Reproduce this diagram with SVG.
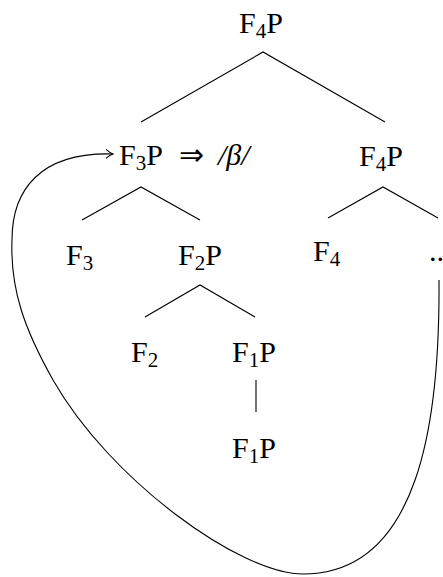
<svg xmlns="http://www.w3.org/2000/svg" width="443" height="577" viewBox="0 0 443 577">
<style>
text{font-family:"Liberation Serif","Times New Roman",serif;font-size:30px;fill:#000}
.c{text-anchor:middle}
.s{font-size:21px}
.e{stroke:#000;stroke-width:1.1;fill:none}
</style>
<defs>
<marker id="ah" markerWidth="12" markerHeight="12" refX="9" refY="6" orient="auto" markerUnits="userSpaceOnUse">
<path d="M2 1.5 Q6 5 9 6 Q6 7 2 10.5" fill="none" stroke="#000" stroke-width="1"/>
</marker>
</defs>
<g id="connectors">
<path class="e" d="M141 122 L263 52 L385 122"/>
<path class="e" d="M82 220 L141 187 L200 220"/>
<path class="e" d="M328 218 L383 187 L438 218"/>
<path class="e" d="M145 317 L200 285 L255 317"/>
<path class="e" d="M256 380 L256 412"/>
<path class="e" marker-end="url(#ah)" d="M439 280 C440 420 420 574 303 574 C240 574 110 480 53 380 C25 330 10 290 12 240 C12 190 40 152 113 154"/>
</g>
<g id="n_top"><text class="c" x="261" y="33">F<tspan class="s" dy="5">4</tspan><tspan dy="-5">P</tspan></text></g>
<g id="n_f3p"><text class="c" x="141" y="165">F<tspan class="s" dy="5">3</tspan><tspan dy="-5">P</tspan></text><text x="179" y="165">⇒</text><text x="218" y="165" font-style="italic">/β/</text></g>
<g id="n_f4p"><text class="c" x="381" y="166">F<tspan class="s" dy="5">4</tspan><tspan dy="-5">P</tspan></text></g>
<g id="n_f3"><text x="66" y="265">F<tspan class="s" dy="5">3</tspan></text></g>
<g id="n_f2p"><text class="c" x="200" y="265">F<tspan class="s" dy="5">2</tspan><tspan dy="-5">P</tspan></text></g>
<g id="n_f4"><text x="313" y="261">F<tspan class="s" dy="5">4</tspan></text></g>
<g id="n_dots"><text x="429" y="261">..</text></g>
<g id="n_f2"><text x="131" y="362">F<tspan class="s" dy="5">2</tspan></text></g>
<g id="n_f1p"><text class="c" x="254" y="362">F<tspan class="s" dy="5">1</tspan><tspan dy="-5">P</tspan></text></g>
<g id="n_f1p2"><text class="c" x="254" y="458">F<tspan class="s" dy="5">1</tspan><tspan dy="-5">P</tspan></text></g>
</svg>
